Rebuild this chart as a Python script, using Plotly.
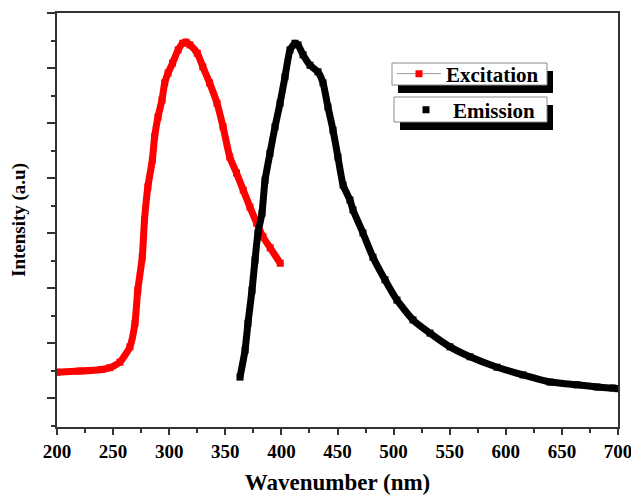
import plotly.graph_objects as go

# Excitation spectrum (nm, intensity a.u.)
exc_x = [200, 220, 240, 247, 256, 265, 269.5, 272, 276, 278, 281, 285, 287, 290, 293.6, 296, 299, 303, 308, 312,
         315, 318.5, 325, 330, 336, 342.6, 348, 354, 360, 366, 372, 378, 383.6, 390, 399]
exc_y = [0.47, 0.49, 0.52, 0.55, 0.65, 0.93, 1.36, 1.96, 2.56, 3.24, 3.84, 4.33, 4.75, 5.11, 5.42, 5.73, 5.91, 6.09, 6.33, 6.45,
         6.47, 6.42, 6.27, 6.02, 5.73, 5.36, 4.93, 4.38, 4.09, 3.78, 3.47, 3.18, 2.93, 2.73, 2.45]

# Emission spectrum
emi_x = [363.1, 367.6, 370.2, 373.8, 376.5, 379.1, 382.7, 385.4, 389.8, 394.3, 398.8, 403.2, 407.7, 412.1, 414.8,
         419.3, 425.5, 432.6, 437.1, 441.5, 446.0, 450.4, 455.0, 461.1, 463.8, 472.7, 481.6, 492.3, 503.0, 517.3,
         532.4, 550.3, 568.1, 592.2, 615.3, 639.4, 663.5, 681.3, 695.5, 700]
emi_y = [0.38, 0.87, 1.36, 1.96, 2.51, 3.0, 3.36, 3.96, 4.45, 4.93, 5.36, 5.84, 6.33, 6.45, 6.42,
         6.24, 6.05, 5.93, 5.73, 5.29, 4.87, 4.38, 3.87, 3.6, 3.42, 3.0, 2.56, 2.15, 1.78, 1.42,
         1.18, 0.93, 0.75, 0.56, 0.42, 0.29, 0.24, 0.2, 0.18, 0.17]

x_ticks = [200, 250, 300, 350, 400, 450, 500, 550, 600, 650, 700]

FONT = "Liberation Serif"

fig = go.Figure()
fig.add_trace(go.Scatter(x=exc_x, y=exc_y, mode="lines+markers", showlegend=False,
                         line=dict(color="#ff0000", width=7, shape="spline", smoothing=0.5),
                         marker=dict(symbol="square", size=7, color="#ff0000")))
fig.add_trace(go.Scatter(x=emi_x, y=emi_y, mode="lines+markers", showlegend=False,
                         line=dict(color="#000000", width=7, shape="spline", smoothing=0.5),
                         marker=dict(symbol="square", size=7, color="#000000")))
# legend entries
fig.add_trace(go.Scatter(x=[None], y=[None], mode="lines+markers", name="Excitation", legend="legend",
                         line=dict(color="#9a9a9a", width=1),
                         marker=dict(symbol="square", size=7, color="#ff0000")))
fig.add_trace(go.Scatter(x=[None], y=[None], mode="markers", name="Emission", legend="legend2",
                         marker=dict(symbol="square", size=7, color="#000000")))

# plot area in reference pixels
L, T, W, H = 57, 13, 561, 414
FW, FH = 631, 495
def px(x):
    return (x - L) / W
def py(y):
    return (T + H - y) / H

shapes = []
for (x0, y0, x1, y1) in [(392, 63, 547, 85), (394, 97, 547, 122)]:
    shapes.append(dict(type="rect", xref="paper", yref="paper", x0=px(x0 + 6), x1=px(x1 + 6),
                       y0=py(y0 + 8), y1=py(y1 + 8), fillcolor="black", line=dict(width=0)))
    shapes.append(dict(type="rect", xref="paper", yref="paper", x0=px(x0), x1=px(x1),
                       y0=py(y0), y1=py(y1), fillcolor="white", line=dict(color="#8a8a8a", width=1)))

legfont = dict(family=FONT, size=21, color="black", weight="bold")
fig.update_layout(
    width=FW, height=FH,
    margin=dict(l=L, r=FW - L - W, t=T, b=FH - T - H, autoexpand=False),
    plot_bgcolor="white", paper_bgcolor="white",
    shapes=shapes,
    legend=dict(x=px(392), y=py(74), xanchor="left", yanchor="middle", bgcolor="rgba(0,0,0,0)",
                borderwidth=0, font=legfont, itemwidth=44),
    legend2=dict(x=px(399), y=py(110), xanchor="left", yanchor="middle", bgcolor="rgba(0,0,0,0)",
                 borderwidth=0, font=legfont, itemwidth=44),
    xaxis=dict(range=[200, 700], tickmode="array", tickvals=x_ticks, ticktext=[str(v) for v in x_ticks],
               ticks="outside", ticklen=6, tickwidth=1.5, tickcolor="#333", automargin=False,
               ticklabeloverflow="allow",
               showline=True, linecolor="#333", linewidth=1.5, mirror=True,
               showgrid=False, zeroline=False,
               tickfont=dict(family=FONT, size=19, color="black", weight="bold"),
               minor=dict(dtick=25, tick0=200, ticks="outside", ticklen=4, tickcolor="#333", tickwidth=1.5),
               title=dict(text="Wavenumber (nm)", font=dict(family=FONT, size=23, color="black", weight="bold"),
                          standoff=21)),
    yaxis=dict(range=[-0.527, 7], dtick=1, tick0=0, showticklabels=False, automargin=False,
               ticks="outside", ticklen=8, tickwidth=1.5, tickcolor="#333",
               showline=True, linecolor="#333", linewidth=1.5, mirror=True,
               showgrid=False, zeroline=False,
               minor=dict(dtick=0.5, tick0=0, ticks="outside", ticklen=4, tickcolor="#333", tickwidth=1.5),
               title=dict(text="Intensity (a.u)", font=dict(family=FONT, size=19, color="black", weight="bold"),
                          standoff=17)),
)

fig.write_html("out.html", config={"displayModeBar": False},
               post_script="document.body.style.margin='0';document.body.style.overflow='hidden';")
